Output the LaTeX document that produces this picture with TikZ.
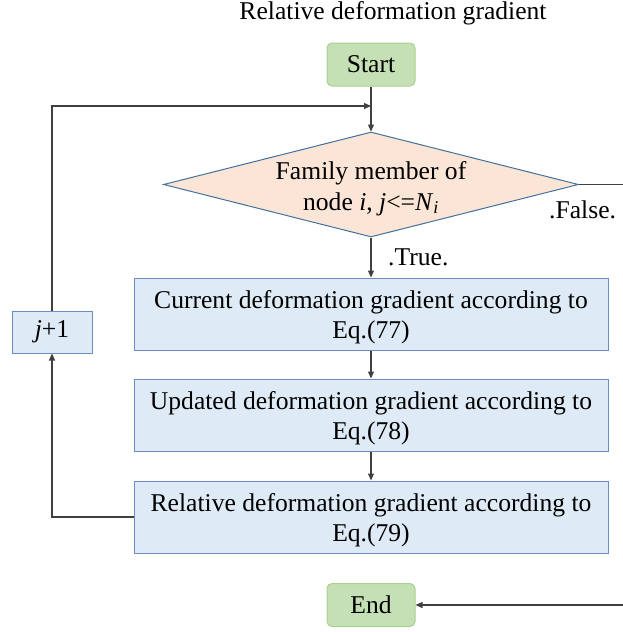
\documentclass[tikz,border=0pt]{standalone}
\usepackage{fontspec}
\setmainfont{Liberation Serif}
\usetikzlibrary{shapes.geometric,arrows.meta}

\definecolor{termfill}{HTML}{C5E0B4}
\definecolor{termline}{HTML}{A9D18E}
\definecolor{decfill}{HTML}{FBE5D6}
\definecolor{decline}{HTML}{41719C}
\definecolor{procfill}{HTML}{DEEBF7}
\definecolor{procline}{HTML}{6A8FBC}
\definecolor{wire}{HTML}{404040}

% tall invisible rule that pushes a two-line label slightly down
\newcommand{\droplab}[1]{\rule{0pt}{#1}}

\begin{document}
\begin{tikzpicture}[x=1pt,y=-1pt,
  font=\fontsize{25.6}{30.7}\selectfont,
  term/.style={draw=termline, fill=termfill, rounded corners=5pt,
    minimum width=88pt, minimum height=43pt, inner sep=0pt, line width=1pt},
  decision/.style={diamond, draw=decline, fill=decfill, aspect=3.95,
    minimum width=415pt, minimum height=105pt, inner sep=0pt,
    line width=1pt},
  proc/.style={draw=procline, fill=procfill, minimum width=474pt,
    minimum height=72pt, inner sep=0pt, line width=1pt, align=center},
  wirestyle/.style={draw=wire, line width=1.2pt,
    -{Triangle[length=7pt,width=6pt]}},
  lbl/.style={inner sep=0pt, anchor=base west}]

  \useasboundingbox (0,0) rectangle (623,632);
  \clip (0,0) rectangle (623,632);

  % heading
  \node[inner sep=0pt, anchor=base] (title) at (393,19.5) {Relative deformation gradient};

  % flow elements
  \node[term] (start) at (371,64.5) {Start};
  \node[decision] (dec) at (371,184.5) {};
  \node[inner sep=0pt, align=center, yshift=-4pt] (declabel) at (dec.center)
    {Family member of\\node \textit{i}, \textit{j}<=\textit{N}\textsubscript{\textit{i}}};
  \node[proc] (cur) at (371,314) {\droplab{24.5pt}Current deformation gradient according to\\Eq.(77)};
  \node[proc] (upd) at (371,415) {\droplab{24.5pt}Updated deformation gradient according to\\Eq.(78)};
  \node[proc] (rel) at (371,517) {\droplab{24.5pt}Relative deformation gradient according to\\Eq.(79)};
  \node[term] (end) at (371,605) {End};
  \node[proc, minimum width=80pt, minimum height=42pt] (jp) at (52,332) {\textit{j}+1};

  % branch labels
  \node[lbl] (truelbl) at (388,265) {.True.};
  \node[lbl] (falselbl) at (549,218) {.False.};

  % helper points for the loop and the exit path
  \coordinate (merge) at (371,106);
  \coordinate (fr) at (640,184.5);
  \coordinate (fe) at (640,605);

  % connectors
  \draw[wirestyle] (start) -- (dec);
  \draw[wirestyle] (dec) -- (cur);
  \draw[wirestyle] (cur) -- (upd);
  \draw[wirestyle] (upd) -- (rel);
  \draw[wirestyle] (rel.west) -| (jp.south);
  \draw[wirestyle] (jp.north) |- (merge);
  \draw[wirestyle] (dec.east) -- (fr) -- (fe) -- (end.east);
\end{tikzpicture}
\end{document}
